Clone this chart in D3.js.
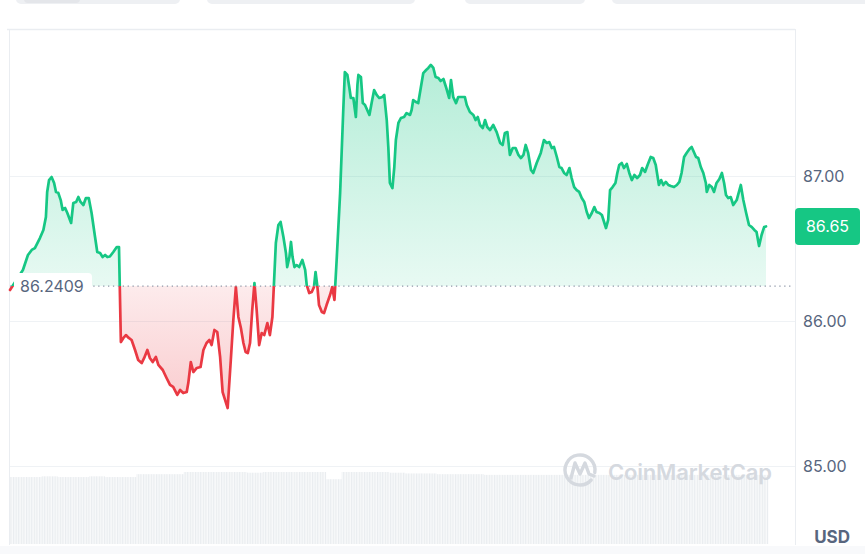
<!DOCTYPE html>
<html>
<head>
<meta charset="utf-8">
<script src="https://cdn.jsdelivr.net/npm/d3@7"></script>
<style>
  html, body { margin: 0; padding: 0; background: #fff; }
  svg { display: block; font-family: Inter, "Noto Sans", sans-serif; }
</style>
</head>
<body>
<svg id="chart" width="865" height="554"></svg>
<script>
// hours since the start of the 24h window
const hours = [
  0.00, 0.41, 0.57, 0.69, 0.79, 0.95, 1.06, 1.14, 1.18, 1.24,
  1.32, 1.40, 1.46, 1.53, 1.61, 1.67, 1.75, 1.82, 1.94, 2.01,
  2.10, 2.17, 2.24, 2.33, 2.41, 2.50, 2.59, 2.70, 2.77, 2.86,
  2.94, 3.02, 3.09, 3.17, 3.28, 3.39, 3.46, 3.52, 3.60, 3.68,
  3.77, 3.86, 3.97, 4.07, 4.18, 4.26, 4.36, 4.44, 4.53, 4.63,
  4.71, 4.85, 4.97, 5.08, 5.18, 5.31, 5.40, 5.50, 5.61, 5.66,
  5.74, 5.82, 5.93, 6.05, 6.14, 6.24, 6.33, 6.40, 6.49, 6.58,
  6.67, 6.75, 6.85, 6.91, 7.01, 7.09, 7.17, 7.25, 7.33, 7.41,
  7.48, 7.55, 7.62, 7.69, 7.76, 7.83, 7.91, 7.99, 8.07, 8.17,
  8.25, 8.33, 8.44, 8.52, 8.59, 8.68, 8.76, 8.80, 8.87, 8.92,
  8.97, 9.03, 9.10, 9.18, 9.28, 9.37, 9.42, 9.50, 9.58, 9.65,
  9.70, 9.76, 9.81, 9.90, 9.97, 10.05, 10.16, 10.23, 10.30, 10.37,
  10.48, 10.58, 10.63, 10.71, 10.77, 10.82, 10.90, 10.98, 11.03, 11.06,
  11.14, 11.20, 11.27, 11.34, 11.41, 11.48, 11.56, 11.64, 11.72, 11.82,
  11.88, 11.96, 12.01, 12.06, 12.14, 12.20, 12.25, 12.33, 12.41, 12.51,
  12.59, 12.70, 12.75, 12.80, 12.89, 12.96, 13.04, 13.12, 13.21, 13.28,
  13.36, 13.44, 13.51, 13.60, 13.67, 13.76, 13.84, 13.94, 14.00, 14.07,
  14.16, 14.23, 14.34, 14.44, 14.50, 14.60, 14.71, 14.78, 14.85, 14.92,
  15.01, 15.08, 15.15, 15.24, 15.34, 15.45, 15.56, 15.64, 15.71, 15.79,
  15.87, 15.96, 16.05, 16.14, 16.22, 16.30, 16.37, 16.45, 16.54, 16.61,
  16.72, 16.85, 16.95, 17.04, 17.12, 17.20, 17.27, 17.36, 17.44, 17.51,
  17.59, 17.67, 17.76, 17.83, 17.91, 17.99, 18.07, 18.15, 18.23, 18.31,
  18.38, 18.47, 18.55, 18.62, 18.71, 18.79, 18.87, 18.92, 18.99, 19.05,
  19.13, 19.22, 19.28, 19.34, 19.42, 19.49, 19.58, 19.66, 19.74, 19.82,
  19.91, 20.00, 20.07, 20.16, 20.24, 20.34, 20.42, 20.50, 20.55, 20.60,
  20.67, 20.74, 20.82, 20.90, 20.98, 21.08, 21.17, 21.25, 21.32, 21.40,
  21.48, 21.57, 21.64, 21.71, 21.78, 21.85, 21.93, 22.01, 22.09, 22.12,
  22.20, 22.28, 22.35, 22.43, 22.52, 22.60, 22.67, 22.73, 22.80, 22.88,
  22.96, 23.07, 23.20, 23.28, 23.37, 23.46, 23.55, 23.63, 23.70, 23.78,
  23.86, 23.94, 24.00
];

// price in USD at each of those moments
const prices = [
  86.214, 86.352, 86.455, 86.490, 86.503, 86.572, 86.628, 86.717, 86.890, 86.972,
  86.993, 86.952, 86.890, 86.885, 86.834, 86.766, 86.779, 86.745, 86.676, 86.814,
  86.821, 86.855, 86.821, 86.800, 86.848, 86.848, 86.745, 86.579, 86.476, 86.469,
  86.441, 86.455, 86.441, 86.445, 86.476, 86.510, 86.510, 85.855, 85.883, 85.903,
  85.883, 85.869, 85.800, 85.731, 85.710, 85.745, 85.800, 85.745, 85.717, 85.752,
  85.697, 85.662, 85.607, 85.559, 85.545, 85.490, 85.524, 85.503, 85.510, 85.572,
  85.717, 85.648, 85.676, 85.683, 85.800, 85.848, 85.869, 85.834, 85.938, 85.924,
  85.752, 85.510, 85.441, 85.400, 85.731, 86.007, 86.234, 86.028, 85.952, 85.848,
  85.786, 85.779, 85.848, 86.076, 86.262, 86.076, 85.834, 85.917, 85.903, 85.986,
  85.903, 86.028, 86.538, 86.662, 86.683, 86.579, 86.469, 86.372, 86.441, 86.545,
  86.441, 86.372, 86.386, 86.372, 86.421, 86.352, 86.248, 86.193, 86.200, 86.234,
  86.338, 86.234, 86.110, 86.062, 86.055, 86.110, 86.179, 86.234, 86.145, 86.421,
  86.883, 87.455, 87.717, 87.697, 87.614, 87.538, 87.538, 87.407, 87.628, 87.697,
  87.683, 87.503, 87.490, 87.455, 87.421, 87.503, 87.593, 87.559, 87.538, 87.545,
  87.559, 87.386, 87.200, 86.952, 86.917, 87.062, 87.248, 87.366, 87.400, 87.407,
  87.434, 87.421, 87.455, 87.524, 87.510, 87.503, 87.607, 87.710, 87.731, 87.745,
  87.766, 87.745, 87.683, 87.676, 87.655, 87.669, 87.614, 87.538, 87.662, 87.545,
  87.503, 87.545, 87.545, 87.545, 87.490, 87.441, 87.421, 87.386, 87.407, 87.352,
  87.331, 87.386, 87.338, 87.317, 87.352, 87.303, 87.228, 87.214, 87.297, 87.303,
  87.145, 87.193, 87.193, 87.145, 87.124, 87.145, 87.214, 87.159, 87.041, 87.021,
  87.090, 87.159, 87.248, 87.228, 87.234, 87.193, 87.200, 87.131, 87.062, 87.055,
  87.021, 87.007, 87.055, 86.986, 86.924, 86.903, 86.890, 86.848, 86.821, 86.752,
  86.710, 86.745, 86.786, 86.752, 86.745, 86.731, 86.676, 86.641, 86.697, 86.903,
  86.924, 86.952, 87.021, 87.076, 87.090, 87.055, 87.083, 87.021, 86.972, 87.007,
  86.986, 87.007, 87.055, 87.028, 87.076, 87.131, 87.124, 87.076, 87.007, 86.938,
  86.972, 86.938, 86.959, 86.938, 86.931, 86.924, 86.938, 86.959, 87.021, 87.131,
  87.159, 87.186, 87.200, 87.166, 87.131, 87.124, 87.062, 87.021, 86.952, 86.890,
  86.938, 86.924, 86.890, 86.952, 86.979, 87.021, 86.952, 86.869, 86.848, 86.855,
  86.800, 86.834, 86.938, 86.834, 86.745, 86.662, 86.648, 86.628, 86.614, 86.517,
  86.593, 86.648, 86.652
];

// relative volume per half hour (1 = busiest bucket)
const volumes = [
  0.93, 0.93, 0.94, 0.93, 0.93, 0.94, 0.93, 0.93,
  0.97, 0.97, 0.97,
  1.00, 1.00, 1.00, 1.00, 0.99, 1.00, 1.00, 1.00, 1.00,
  0.90,
  1.00, 1.00, 1.00, 0.99,
  0.98, 0.98, 0.97, 0.97, 0.97, 0.96, 0.96, 0.96, 0.96,
  0.96, 0.96, 0.96, 0.96, 0.96, 0.96, 0.96, 0.96, 0.96, 0.96, 0.96, 0.96, 0.96, 0.96
];

const yTicks = [85, 86, 87];
const openPrice = 86.2409;
const currency = "USD";

const W = 865, H = 554;
const frameLeft = 10, frameRight = 795, frameTop = 29, frameBottom = 545;
const green = "#16c784", red = "#ea3943", labelColor = "#58667e";

const svg = d3.select("#chart");
const defs = svg.append("defs");

const x = d3.scaleLinear().domain([0, 24]).range([10, 766]);
const y = d3.scaleLinear().domain([85, 87]).range([466, 176]);
const data = hours.map((h, i) => ({ t: h, p: prices[i] }));
const yBase = y(openPrice);

// partly hidden buttons at the very top
[[16, 180], [207, 415], [465, 585], [612, 880]].forEach(([a, b]) => {
  svg.append("rect").attr("x", a).attr("y", -7).attr("width", b - a).attr("height", 11)
    .attr("rx", 5).attr("fill", "#eef0f3");
});
svg.append("rect").attr("x", 24).attr("y", -7).attr("width", 56).attr("height", 10)
  .attr("rx", 4).attr("fill", "#e4e6ea");

// bottom strip
svg.append("rect").attr("x", 0).attr("y", frameBottom + 1).attr("width", W).attr("height", H - frameBottom)
  .attr("fill", "#f8f9fb");

// frame
const frame = svg.append("g").attr("stroke", "#eaedf1").attr("stroke-width", 1).attr("fill", "none");
frame.append("line").attr("x1", frameLeft - 3).attr("x2", frameRight).attr("y1", frameTop + 0.5).attr("y2", frameTop + 0.5)
  .attr("stroke-width", 1.5);
frame.append("line").attr("x1", frameLeft - 0.5).attr("x2", frameLeft - 0.5).attr("y1", frameTop).attr("y2", frameBottom);
frame.append("line").attr("x1", frameRight + 0.5).attr("x2", frameRight + 0.5).attr("y1", frameTop).attr("y2", frameBottom);

// grid lines
svg.append("g")
  .attr("transform", `translate(${frameRight},0)`)
  .call(d3.axisLeft(y).tickValues(yTicks).tickSize(frameRight - frameLeft).tickFormat(""))
  .call(g => g.select(".domain").remove())
  .call(g => g.selectAll(".tick line").attr("stroke", "#eff2f5"));

// volume bars
const stripes = defs.append("pattern").attr("id", "volStripes")
  .attr("patternUnits", "userSpaceOnUse").attr("width", 2.6).attr("height", 8);
stripes.append("rect").attr("width", 2.6).attr("height", 8).attr("fill", "#f8f9fa");
stripes.append("rect").attr("width", 1.1).attr("height", 8).attr("fill", "#e9ecef");

const xb = d3.scaleBand().domain(d3.range(volumes.length)).range([10, 768]);
const yv = d3.scaleLinear().domain([0, 1]).range([544, 472]);
svg.append("g").selectAll("rect").data(volumes).join("rect")
  .attr("x", (d, i) => xb(i))
  .attr("width", xb.bandwidth() + 0.3)
  .attr("y", d => yv(d))
  .attr("height", d => yv(0) - yv(d))
  .attr("fill", "url(#volStripes)");

// watermark
const wm = svg.append("g").attr("fill", "none").attr("stroke", "#d5d9df").attr("stroke-width", 3.4)
  .attr("stroke-linecap", "round").attr("stroke-linejoin", "round");
wm.append("path").attr("d", d3.arc()({ innerRadius: 15, outerRadius: 15, startAngle: 2.3, endAngle: 2 * Math.PI + 1.75 }))
  .attr("transform", "translate(580,470)");
wm.append("path").attr("d", "M571,478 L575,463 L580,474 L585,463 L589,474 L594,476");
svg.append("text").attr("x", 608).attr("y", 480).attr("fill", "#d5d9df")
  .attr("font-size", 22).attr("font-weight", 600).attr("textLength", 164)
  .text("CoinMarketCap");

// gradients and clips
const gGreen = defs.append("linearGradient").attr("id", "gGreen").attr("gradientUnits", "userSpaceOnUse")
  .attr("x1", 0).attr("x2", 0).attr("y1", y(d3.max(prices))).attr("y2", yBase);
gGreen.append("stop").attr("offset", 0).attr("stop-color", green).attr("stop-opacity", 0.32);
gGreen.append("stop").attr("offset", 1).attr("stop-color", green).attr("stop-opacity", 0.1);

const gRed = defs.append("linearGradient").attr("id", "gRed").attr("gradientUnits", "userSpaceOnUse")
  .attr("x1", 0).attr("x2", 0).attr("y1", yBase).attr("y2", y(d3.min(prices)));
gRed.append("stop").attr("offset", 0).attr("stop-color", red).attr("stop-opacity", 0.1);
gRed.append("stop").attr("offset", 1).attr("stop-color", red).attr("stop-opacity", 0.26);

defs.append("clipPath").attr("id", "above").append("rect")
  .attr("x", 0).attr("y", 0).attr("width", W).attr("height", yBase);
defs.append("clipPath").attr("id", "below").append("rect")
  .attr("x", 0).attr("y", yBase).attr("width", W).attr("height", H - yBase);

const area = d3.area().x(d => x(d.t)).y0(yBase).y1(d => y(d.p));
const line = d3.line().x(d => x(d.t)).y(d => y(d.p));

svg.append("path").datum(data).attr("d", area).attr("fill", "url(#gGreen)").attr("clip-path", "url(#above)");
svg.append("path").datum(data).attr("d", area).attr("fill", "url(#gRed)").attr("clip-path", "url(#below)");

[["above", green], ["below", red]].forEach(([clip, color]) => {
  svg.append("path").datum(data).attr("d", line)
    .attr("fill", "none").attr("stroke", color).attr("stroke-width", 2.7)
    .attr("stroke-linejoin", "round").attr("stroke-linecap", "round")
    .attr("clip-path", `url(#${clip})`);
});

// opening price dotted line
svg.append("line").attr("x1", frameLeft).attr("x2", frameRight - 4).attr("y1", yBase).attr("y2", yBase)
  .attr("stroke", "#8f98a8").attr("stroke-width", 1.3).attr("stroke-dasharray", "1.3,3.6");

// y axis labels
svg.append("g")
  .attr("transform", `translate(${frameRight},0)`)
  .call(d3.axisRight(y).tickValues(yTicks).tickSize(0).tickPadding(8).tickFormat(d3.format(".2f")))
  .call(g => g.select(".domain").remove())
  .call(g => g.selectAll("text").attr("fill", labelColor).attr("font-size", 16)
    .attr("font-family", "Inter, 'Noto Sans', sans-serif"));

// opening price label
svg.append("rect").attr("x", 14).attr("y", yBase - 13).attr("width", 78).attr("height", 26)
  .attr("rx", 4).attr("fill", "#fff");
svg.append("text").attr("x", 20).attr("y", yBase).attr("dy", "0.36em")
  .attr("fill", labelColor).attr("font-size", 16).text(openPrice.toFixed(4));

// current price tag
const last = prices[prices.length - 1];
svg.append("rect").attr("x", frameRight).attr("y", y(last) - 18.5).attr("width", 65).attr("height", 37)
  .attr("rx", 4).attr("fill", green);
svg.append("text").attr("x", frameRight + 32.5).attr("y", y(last)).attr("dy", "0.36em")
  .attr("text-anchor", "middle").attr("fill", "#fff").attr("font-size", 16)
  .text(d3.format(".2f")(last));

// currency
svg.append("text").attr("x", 850).attr("y", 543).attr("text-anchor", "end")
  .attr("fill", labelColor).attr("font-size", 17).attr("font-weight", 700).text(currency);
</script>
</body>
</html>
